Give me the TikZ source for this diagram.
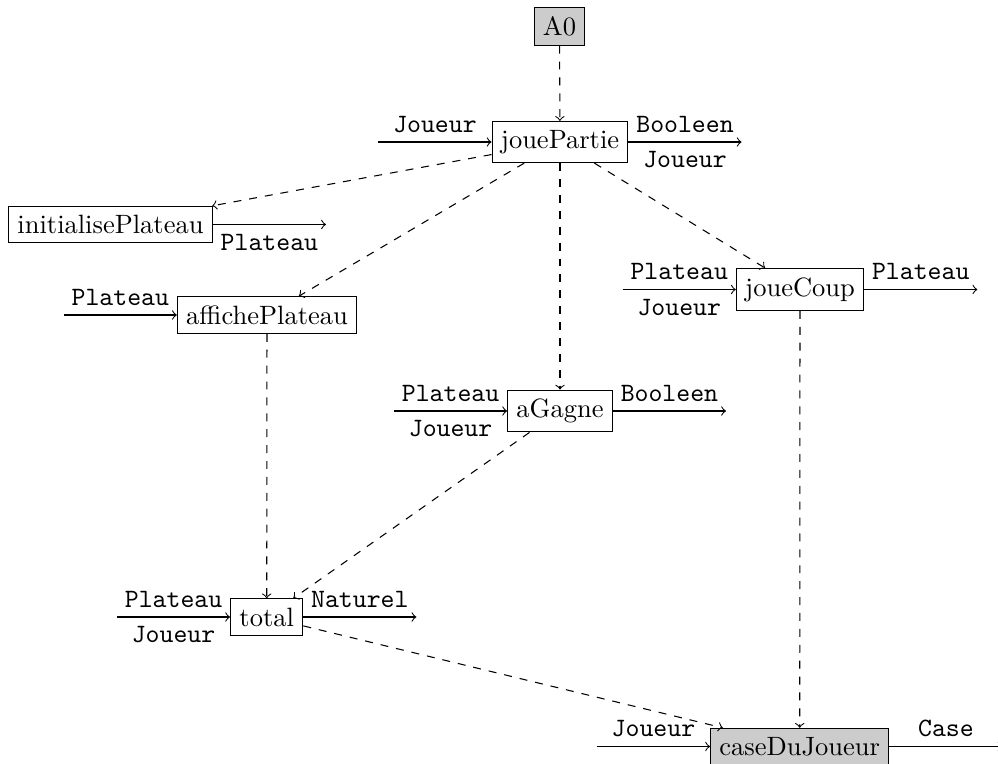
\documentclass[tikz,border=0pt]{standalone}
\usetikzlibrary{calc}
\begin{document}
\begin{tikzpicture}[x=0.3774pt,y=-0.3774pt,
  fn/.style={draw,inner sep=0.3333em},
  fng/.style={fn,fill=gray!40},
  call/.style={->,dashed},
  io/.style={->},
  lbl/.style={font=\ttfamily}]
\useasboundingbox (0,0) rectangle (998,764);
% nodes
\node[fng] (A0) at (559.5,26.5) {A0};
\node[fn] (jp) at (560,142) {jouePartie};
\node[fn] (ip) at (110.5,224.5) {initialisePlateau};
\node[fn] (ap) at (267,315) {affichePlateau};
\node[fn] (jc) at (800,289.5) {joueCoup};
\node[fn] (ag) at (560,411) {aGagne};
\node[fn] (tot) at (266.7,617) {total};
\node[fng] (cdj) at (799.7,746.5) {caseDuJoueur};
% free ends
\coordinate (jpI) at ([xshift=-1.5cm]jp.west);
\coordinate (jpO) at ([xshift=1.5cm]jp.east);
\coordinate (ipO) at ([xshift=1.5cm]ip.east);
\coordinate (apI) at ([xshift=-1.5cm]ap.west);
\coordinate (jcI) at ([xshift=-1.5cm]jc.west);
\coordinate (jcO) at ([xshift=1.5cm]jc.east);
\coordinate (agI) at ([xshift=-1.5cm]ag.west);
\coordinate (agO) at ([xshift=1.5cm]ag.east);
\coordinate (totI) at ([xshift=-1.5cm]tot.west);
\coordinate (totO) at ([xshift=1.5cm]tot.east);
\coordinate (cdjI) at ([xshift=-1.5cm]cdj.west);
\coordinate (cdjO) at ([xshift=1.5cm]cdj.east);
% data flows
\draw[io] (jpI) -- node[lbl,above]{Joueur} (jp.west);
\draw[io] (jp.east) -- node[lbl,above]{Booleen} node[lbl,below]{Joueur} (jpO);
\draw[io] (ip.east) -- node[lbl,below]{Plateau} (ipO);
\draw[io] (apI) -- node[lbl,above]{Plateau} (ap.west);
\draw[io] (jcI) -- node[lbl,above]{Plateau} node[lbl,below]{Joueur} (jc.west);
\draw[io] (jc.east) -- node[lbl,above]{Plateau} (jcO);
\draw[io] (agI) -- node[lbl,above]{Plateau} node[lbl,below]{Joueur} (ag.west);
\draw[io] (ag.east) -- node[lbl,above]{Booleen} (agO);
\draw[io] (totI) -- node[lbl,above]{Plateau} node[lbl,below]{Joueur} (tot.west);
\draw[io] (tot.east) -- node[lbl,above]{Naturel} (totO);
\draw[io] (cdjI) -- node[lbl,above]{Joueur} (cdj.west);
\draw[io] (cdj.east) -- node[lbl,above]{Case} (cdjO);
% calls
\draw[call] (A0) -- (jp);
\draw[call] (jp) -- (ip);
\draw[call] (jp) -- (ap);
\draw[call] (jp) -- (ag);
\draw[call] (jp) -- (jc);
\draw[call] (ap) -- (tot);
\draw[call] (ag) -- (tot);
\draw[call] (jc) -- (cdj);
\draw[call] (tot) -- (cdj);
\end{tikzpicture}
\end{document}
